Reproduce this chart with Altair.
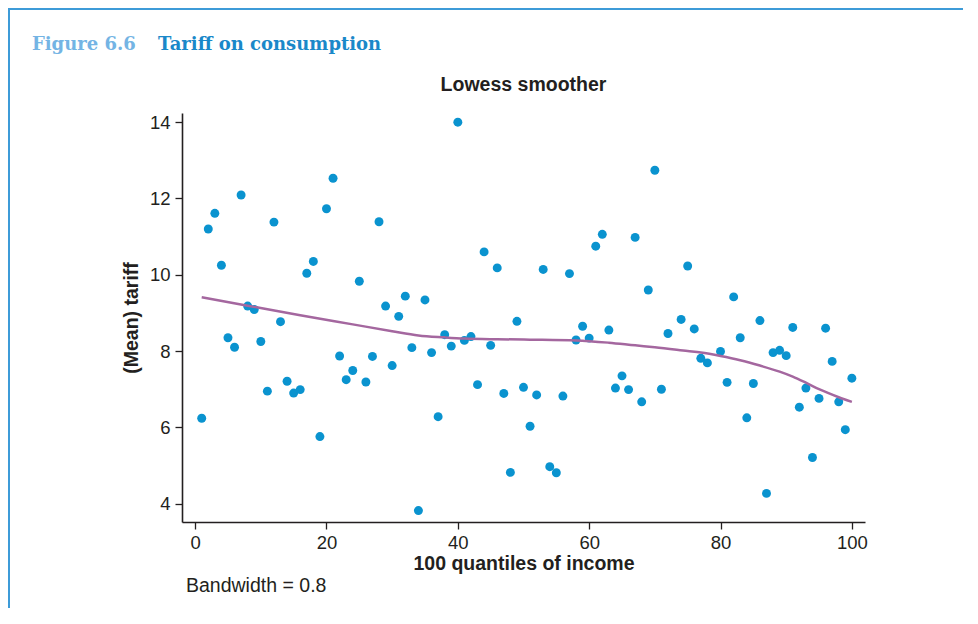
import altair as alt
import pandas as pd

quantile = [1, 2, 3, 4, 5, 6, 7, 8, 9, 10,
            11, 12, 13, 14, 15, 16, 17, 18, 19, 20,
            21, 22, 23, 24, 25, 26, 27, 28, 29, 30,
            31, 32, 33, 34, 35, 36, 37, 38, 39, 40,
            41, 42, 43, 44, 45, 46, 47, 48, 49, 50,
            51, 52, 53, 54, 55, 56, 57, 58, 59, 60,
            61, 62, 63, 64, 65, 66, 67, 68, 69, 70,
            71, 72, 74, 75, 76, 77, 78, 80,
            81, 82, 83, 84, 85, 86, 87, 88, 89, 90,
            91, 92, 93, 94, 95, 96, 97, 98, 99, 100]

tariff = [6.24, 11.20, 11.61, 10.25, 8.35, 8.10, 12.09, 9.18, 9.09, 8.25,
          6.95, 11.38, 8.77, 7.21, 6.90, 6.99, 10.04, 10.35, 5.76, 11.73,
          12.53, 7.87, 7.25, 7.49, 9.83, 7.19, 7.86, 11.39, 9.18, 7.62,
          8.91, 9.44, 8.09, 3.82, 9.34, 7.96, 6.28, 8.43, 8.13, 14.00,
          8.28, 8.38, 7.12, 10.60, 8.15, 10.18, 6.89, 4.82, 8.78, 7.05,
          6.03, 6.85, 10.14, 4.97, 4.81, 6.82, 10.03, 8.29, 8.65, 8.34,
          10.75, 11.06, 8.55, 7.03, 7.35, 6.99, 10.98, 6.67, 9.60, 12.74,
          7.00, 8.46, 8.83, 10.23, 8.58, 7.81, 7.69, 7.99,
          7.18, 9.42, 8.35, 6.25, 7.15, 8.80, 4.27, 7.96, 8.02, 7.88,
          8.62, 6.53, 7.03, 5.21, 6.76, 8.60, 7.73, 6.67, 5.94, 7.29]

# Lowess smoother (bandwidth 0.8)
smooth_q = [1, 8, 16, 24, 30, 34, 38, 41, 46, 51, 58, 63, 67, 70, 75,
            77, 80, 83, 86, 89, 91, 93, 95, 98, 100]
smooth_v = [9.41, 9.19, 8.94, 8.70, 8.52, 8.41, 8.36, 8.33, 8.31, 8.30,
            8.28, 8.22, 8.15, 8.10, 8.00, 7.96, 7.87, 7.76, 7.62, 7.46,
            7.33, 7.17, 7.00, 6.79, 6.67]

x_ticks = [0, 20, 40, 60, 80, 100]
y_ticks = [4, 6, 8, 10, 12, 14]

df = pd.DataFrame({"q": quantile, "tariff": tariff})
sm = pd.DataFrame({"q": smooth_q, "tariff": smooth_v})

W, H = 683, 409
PAD_L, PAD_T, PAD_R, PAD_B = 174, 105, 98, 86

FONT = "Liberation Sans"
SERIF = "DejaVu Serif"
BLUE_FRAME = "#3d9bd8"
INK = "#231f20"

xscale = alt.Scale(domain=[-2, 102], nice=False, zero=False)
yscale = alt.Scale(domain=[3.52, 14.24], nice=False, zero=False)

x_enc = alt.X("q:Q", scale=xscale,
              axis=alt.Axis(values=x_ticks, title="100 quantiles of income",
                            grid=False, tickSize=7, labelPadding=4,
                            titlePadding=3))
y_enc = alt.Y("tariff:Q", scale=yscale,
              axis=alt.Axis(values=y_ticks, title="(Mean) tariff",
                            grid=False, tickSize=7, labelPadding=5,
                            titlePadding=8))

points = alt.Chart(df).mark_circle(size=80, color="#0a93cf", opacity=1).encode(
    x=x_enc, y=y_enc
)

smooth = alt.Chart(sm).mark_line(
    color="#a4679f", strokeWidth=2.5, interpolate="monotone"
).encode(x="q:Q", y="tariff:Q")

ann = pd.DataFrame({"t": [0]})

def text(label, x, y, **kw):
    return alt.Chart(ann).mark_text(align="left", baseline="alphabetic", **kw).encode(
        x=alt.value(x), y=alt.value(y), text=alt.value(label)
    )

fig_num = text("Figure 6.6", -150, -63, font=SERIF, fontSize=18,
               fontWeight="bold", color="#74b4e4")
fig_title = text("Tariff on consumption", -24, -63, font=SERIF, fontSize=18,
                 fontWeight="bold", color="#1a88c9")
panel_title = alt.Chart(ann).mark_text(
    align="center", baseline="alphabetic", font=FONT, fontSize=19.5,
    fontWeight="bold", color=INK
).encode(x=alt.value(W / 2), y=alt.value(-22), text=alt.value("Lowess smoother"))
bandwidth = text("Bandwidth = 0.8", 4, 479, font=FONT, fontSize=19.5, color=INK)

frame_top = alt.Chart(ann).mark_rule(color=BLUE_FRAME, strokeWidth=2).encode(
    x=alt.value(-PAD_L), x2=alt.value(W + PAD_R), y=alt.value(-PAD_T + 1)
)
frame_left = alt.Chart(ann).mark_rule(color=BLUE_FRAME, strokeWidth=2).encode(
    x=alt.value(-PAD_L + 1), y=alt.value(-PAD_T), y2=alt.value(H + PAD_B)
)

chart = alt.layer(
    frame_top, frame_left, points, smooth,
    fig_num, fig_title, panel_title, bandwidth
).properties(
    width=W, height=H,
    background="white",
    autosize=alt.AutoSizeParams(type="none"),
    padding={"left": PAD_L, "top": PAD_T, "right": PAD_R, "bottom": PAD_B},
).configure_view(stroke=None).configure_axis(
    domainColor=INK, domainWidth=1.6, tickColor=INK, tickWidth=1.3,
    labelFont=FONT, labelFontSize=18.5, labelColor=INK,
    titleFont=FONT, titleFontSize=19.5, titleFontWeight="bold", titleColor=INK,
)

chart.save("out.html", embed_options={"renderer": "svg", "actions": False})
